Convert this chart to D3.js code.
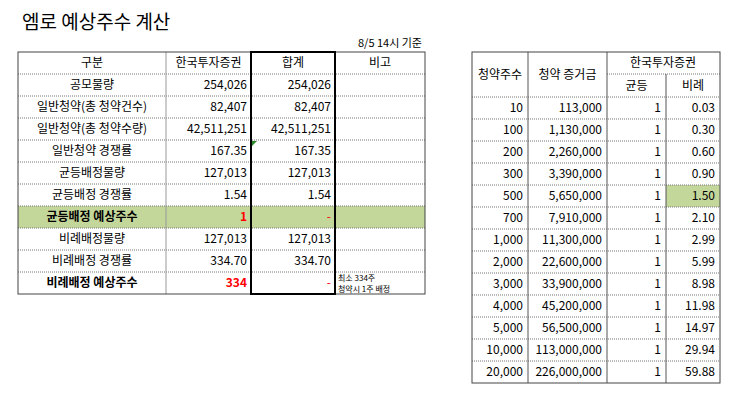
<!DOCTYPE html>
<html><head><meta charset="utf-8">
<script src="https://cdn.jsdelivr.net/npm/d3@7"></script>
<style>body{margin:0;background:#fff}text{font-family:"Noto Sans CJK KR","Noto Sans",sans-serif}</style>
</head><body><svg id="c" width="743" height="416"></svg>
<script>
const leftHeader = ['구분', '한국투자증권', '합계', '비고'];
const leftLabels = ['공모물량', '일반청약(총 청약건수)', '일반청약(총 청약수량)', '일반청약 경쟁률', '균등배정물량', '균등배정 경쟁률', '균등배정 예상주수', '비례배정물량', '비례배정 경쟁률', '비례배정 예상주수'];
const leftKis = ['254,026', '82,407', '42,511,251', '167.35', '127,013', '1.54', '1', '127,013', '334.70', '334'];
const leftSum = ['254,026', '82,407', '42,511,251', '167.35', '127,013', '1.54', '-', '127,013', '334.70', '-'];
const note = ['최소 334주', '청약시 1주 배정'];

const shares = [10, 100, 200, 300, 500, 700, 1000, 2000, 3000, 4000, 5000, 10000, 20000];
const deposit = [113000, 1130000, 2260000, 3390000, 5650000, 7910000, 11300000, 22600000, 33900000, 45200000, 56500000, 113000000, 226000000];
const equal = [1, 1, 1, 1, 1, 1, 1, 1, 1, 1, 1, 1, 1];
const prop = [0.03, 0.30, 0.60, 0.90, 1.50, 2.10, 2.99, 5.99, 8.98, 11.98, 14.97, 29.94, 59.88];

const svg = d3.select('#c');
const fmt = d3.format(',');
const dash = '#777';

svg.append('text').attr('x', 22).attr('y', 29).attr('font-size', 19).text('엠로 예상주수 계산');
svg.append('text').attr('x', 422).attr('y', 47).attr('text-anchor', 'end').attr('font-size', 11).text('8/5 14시 기준');

// left table
const lx = d3.scaleOrdinal().domain([0, 1, 2, 3]).range([18, 166, 251, 335]);
const lw = [148, 85, 84, 90];
const ly = d3.scaleBand().domain(d3.range(11)).range([52, 294]);
const g = svg.append('g');

// green row
g.append('rect').attr('x', 18).attr('y', ly(7)).attr('width', 407).attr('height', ly.bandwidth()).attr('fill', '#c4d79b');

// horizontal dashed lines
g.selectAll('.h').data(d3.range(1, 11)).join('line')
  .attr('x1', 18).attr('x2', 425).attr('y1', d => ly(d)).attr('y2', d => ly(d))
  .attr('stroke', dash).attr('stroke-dasharray', '1,1');
[1, 2, 3].forEach(i => g.append('line').attr('x1', lx(i)).attr('x2', lx(i)).attr('y1', 52).attr('y2', 294).attr('stroke', '#999'));
g.append('rect').attr('x', 18).attr('y', 52).attr('width', 407).attr('height', 242).attr('fill', 'none').attr('stroke', '#444');
g.append('rect').attr('x', 251).attr('y', 52).attr('width', 84).attr('height', 242).attr('fill', 'none').attr('stroke', '#000').attr('stroke-width', 2);
g.append('path').attr('d', `M252,${ly(4) + 1}l5,0l-5,5z`).attr('fill', '#2a8a2a');

const mid = i => ly(i) + ly.bandwidth() / 2 + 4;
g.selectAll('.hd').data(leftHeader).join('text')
  .attr('x', (d, i) => lx(i) + lw[i] / 2).attr('y', mid(0)).attr('text-anchor', 'middle').attr('font-size', 12).text(d => d);
const bold = i => i === 6 || i === 9;
g.selectAll('.lb').data(leftLabels).join('text')
  .attr('x', lx(0) + lw[0] / 2).attr('y', (d, i) => mid(i + 1)).attr('text-anchor', 'middle')
  .attr('font-size', 12).attr('font-weight', (d, i) => bold(i) ? 'bold' : null).text(d => d);
g.selectAll('.k').data(leftKis).join('text')
  .attr('x', lx(1) + lw[1] - 4).attr('y', (d, i) => mid(i + 1)).attr('text-anchor', 'end')
  .attr('font-size', 12).attr('font-weight', (d, i) => bold(i) ? 'bold' : null)
  .attr('fill', (d, i) => bold(i) ? '#f00' : '#000').text(d => d);
g.selectAll('.s').data(leftSum).join('text')
  .attr('x', lx(2) + lw[2] - 4).attr('y', (d, i) => mid(i + 1)).attr('text-anchor', 'end')
  .attr('font-size', 12).attr('fill', (d, i) => bold(i) ? '#f00' : '#000').text(d => d);
g.selectAll('.n').data(note).join('text')
  .attr('x', 338).attr('y', (d, i) => ly(10) + 9 + i * 11).attr('font-size', 8).text(d => d);

// right table
const rx = [472, 528, 607, 666, 720];
const ry = d3.scaleBand().domain(d3.range(13)).range([97, 383]);
const r = svg.append('g');
r.append('rect').attr('x', 666).attr('y', ry(4)).attr('width', 54).attr('height', ry.bandwidth()).attr('fill', '#c4d79b');
r.selectAll('.h').data(d3.range(0, 13)).join('line')
  .attr('x1', 472).attr('x2', 720).attr('y1', d => ry(d)).attr('y2', d => ry(d))
  .attr('stroke', dash).attr('stroke-dasharray', '1,1');
r.append('line').attr('x1', 607).attr('x2', 720).attr('y1', 74).attr('y2', 74).attr('stroke', dash).attr('stroke-dasharray', '1,1');
[1, 2].forEach(i => r.append('line').attr('x1', rx[i]).attr('x2', rx[i]).attr('y1', 52).attr('y2', 383).attr('stroke', '#555'));
r.append('line').attr('x1', 666).attr('x2', 666).attr('y1', 74).attr('y2', 383).attr('stroke', '#555');
r.append('rect').attr('x', 472).attr('y', 52).attr('width', 248).attr('height', 331).attr('fill', 'none').attr('stroke', '#444');

const rh = [['청약주수', 500, 79], ['청약 증거금', 567.5, 79], ['한국투자증권', 663, 67], ['균등', 636.5, 90], ['비례', 693, 90]];
r.selectAll('.rh').data(rh).join('text').attr('x', d => d[1]).attr('y', d => d[2])
  .attr('text-anchor', 'middle').attr('font-size', 12).text(d => d[0]);
const cols = [shares.map(fmt), deposit.map(fmt), equal.map(String), prop.map(d3.format('.2f'))];
cols.forEach((col, c) => {
  r.selectAll('.c' + c).data(col).join('text')
    .attr('x', rx[c + 1] - 5).attr('y', (d, i) => ry(i) + ry.bandwidth() / 2 + 4)
    .attr('text-anchor', 'end').attr('font-size', 12).text(d => d);
});
</script></body></html>
